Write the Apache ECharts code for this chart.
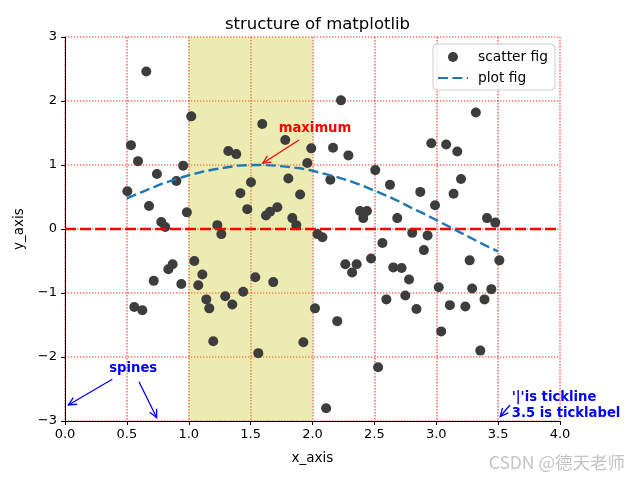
<!DOCTYPE html>
<html><head><meta charset="utf-8">
<script src="https://cdn.jsdelivr.net/npm/echarts/dist/echarts.min.js"></script>
<style>html,body{margin:0;padding:0;background:#fff}#c{width:640px;height:480px}</style>
</head><body><div id="c"></div>
<script>
const titleText = 'structure of matplotlib';
const xAxisName = 'x_axis';
const yAxisName = 'y_axis';
const legendNames = ['scatter fig', 'plot fig'];

const scatterX = [0.657,0.533,0.59,0.743,0.955,0.90,0.504,0.679,0.985,0.778,0.81,1.02,1.594,1.78,1.99,1.32,1.384,1.958,1.503,1.805,1.417,1.90,1.473,1.716,1.657,1.624,1.837,1.869,1.231,1.263,1.045,1.11,1.077,0.94,1.538,1.683,1.142,1.295,1.44,1.166,1.352,2.02,2.04,1.198,1.926,1.562,0.87,0.835,0.717,0.56,0.625,2.23,2.96,2.166,2.29,2.507,2.144,2.626,2.871,2.99,2.384,2.44,2.41,2.685,2.08,2.806,2.93,2.565,2.90,2.473,2.265,2.357,2.32,2.653,2.72,2.78,3.02,2.597,2.75,2.84,2.20,2.53,2.11,3.04,3.32,3.08,3.17,3.20,3.14,3.41,3.477,3.27,3.51,3.29,3.445,3.39,3.11,3.235,3.356];
const scatterY = [2.46,1.31,1.06,0.86,0.99,0.75,0.59,0.36,0.26,0.11,0.03,1.76,1.64,1.39,1.26,1.22,1.17,1.03,0.73,0.79,0.56,0.54,0.31,0.34,0.27,0.21,0.17,0.06,0.06,-0.08,-0.50,-0.71,-0.88,-0.86,-0.755,-0.83,-1.10,-1.05,-0.98,-1.24,-1.18,-1.24,-0.08,-1.755,-1.77,-1.94,-0.55,-0.63,-0.81,-1.22,-1.27,2.01,1.34,1.27,1.15,0.92,0.77,0.69,0.58,0.37,0.28,0.28,0.17,0.17,-0.13,-0.06,-0.10,-0.22,-0.33,-0.46,-0.55,-0.55,-0.68,-0.60,-0.61,-0.79,-0.91,-1.10,-1.04,-1.25,-1.44,-2.16,-2.80,-1.60,1.82,1.32,1.21,0.78,0.55,0.17,0.10,-0.49,-0.49,-0.93,-0.94,-1.10,-1.19,-1.21,-1.90];

const curveX = [0.5,0.6,0.7,0.8,0.9,1.0,1.1,1.2,1.3,1.4,1.5,1.6,1.7,1.8,1.9,2.0,2.1,2.2,2.3,2.4,2.5,2.6,2.7,2.8,2.9,3.0,3.1,3.2,3.3,3.4,3.5];
const curveY = [0.48,0.56,0.64,0.72,0.78,0.84,0.89,0.93,0.96,0.99,1.0,1.0,0.99,0.97,0.95,0.91,0.86,0.81,0.75,0.68,0.60,0.52,0.43,0.33,0.24,0.14,0.04,-0.06,-0.16,-0.26,-0.35];

const hLineX = [0, 4];
const hLineY = [0, 0];
const spanRange = [1, 2];

// annotations (data coordinates)
const annMaxText = {text: 'maximum', at: [1.727, 1.567]};
const annMaxArrow = {from: [1.891, 1.39], to: [1.598, 1.027]};
const annSpinesText = {text: 'spines', at: [0.357, -2.18]};
const annSpinesArrows = [{from: [0.382, -2.348], to: [0.027, -2.75]}, {from: [0.598, -2.386], to: [0.741, -2.948]}];
const annTickText = {text: "'|'is tickline\n3.5 is ticklabel", at: [3.61, -2.758]};
const annTickArrow = {from: [3.596, -2.75], to: [3.517, -2.93]};
const watermark = 'CSDN @德天老师';

const chart = echarts.init(document.getElementById('c'), null, {renderer: 'canvas'});
const FONT = 'DejaVu Sans';
const gridLine = {color: '#ff0000', opacity: 0.55, type: [1.4, 1.6], width: 1.6};

chart.setOption({
  animation: false,
  backgroundColor: '#fff',
  title: {
    text: titleText, left: 312.5, top: 11, textAlign: 'center',
    textStyle: {fontFamily: FONT, fontSize: 16.5, fontWeight: 'normal', color: '#000'}
  },
  legend: {
    data: [
      {name: legendNames[0]},
      {name: legendNames[1], itemStyle: {opacity: 0}}
    ],
    orient: 'vertical', left: 433, top: 44,
    padding: [6, 7, 5, 4],
    itemWidth: 30, itemHeight: 10, itemGap: 7,
    backgroundColor: 'rgba(255,255,255,0.8)', borderColor: '#cccccc', borderWidth: 1, borderRadius: 4,
    textStyle: {fontFamily: FONT, fontSize: 13.8, color: '#000', padding: [0, 0, 0, 5], lineHeight: 14}
  },
  grid: {left: 65, right: 80, top: 37, bottom: 59, outerBoundsMode: 'none', containLabel: false},
  xAxis: {
    type: 'value', min: 0, max: 4, interval: 0.5,
    name: xAxisName, nameLocation: 'middle', nameGap: 30,
    nameTextStyle: {fontFamily: FONT, fontSize: 13.5, color: '#000'},
    axisLine: {show: true, onZero: false, lineStyle: {color: '#000', width: 1}},
    axisTick: {show: true, inside: false, length: 4, lineStyle: {color: '#000'}},
    axisLabel: {fontFamily: FONT, fontSize: 13, color: '#000', margin: 7, formatter: v => v.toFixed(1)},
    splitLine: {show: true, lineStyle: gridLine}
  },
  yAxis: {
    type: 'value', min: -3, max: 3, interval: 1,
    name: yAxisName, nameLocation: 'middle', nameGap: 28,
    nameTextStyle: {fontFamily: FONT, fontSize: 13.5, color: '#000'},
    axisLine: {show: true, onZero: false, lineStyle: {color: '#000', width: 1}},
    axisTick: {show: true, inside: false, length: 4, lineStyle: {color: '#000'}},
    axisLabel: {fontFamily: FONT, fontSize: 13, color: '#000', margin: 8, formatter: v => String(v).replace('-', '\u2212')},
    splitLine: {show: true, lineStyle: gridLine}
  },
  series: [
    {
      name: legendNames[0], type: 'scatter', z: 2,
      symbol: 'circle', symbolSize: 10,
      itemStyle: {color: '#3d3d3d', opacity: 1},
      data: scatterX.map((x, i) => [x, scatterY[i]])
    },
    {
      name: 'span', type: 'line', z: 3, data: [], silent: true,
      markArea: {silent: true, itemStyle: {color: 'rgba(191,191,0,0.3)'},
        data: [[{xAxis: spanRange[0]}, {xAxis: spanRange[1]}]]}
    },
    {
      name: 'zero', type: 'line', z: 4, symbol: 'none', silent: true,
      lineStyle: {color: '#ff0000', width: 2.3, type: [11, 4]},
      data: hLineX.map((x, i) => [x, hLineY[i]])
    },
    {
      name: legendNames[1], type: 'line', z: 5, symbol: 'none', showSymbol: false, smooth: false,
      itemStyle: {color: '#1f77b4'},
      lineStyle: {color: '#1f77b4', width: 2.4, type: [10, 4.4]},
      data: curveX.map((x, i) => [x, curveY[i]])
    }
  ]
});

const px = p => chart.convertToPixel({gridIndex: 0}, p);
function arrow(a, color) {
  const p0 = px(a.from), p1 = px(a.to);
  const dx = p1[0] - p0[0], dy = p1[1] - p0[1];
  const L = Math.hypot(dx, dy), ux = dx / L, uy = dy / L;
  const hl = 8, hw = 3.8;
  const bx = p1[0] - ux * hl, by = p1[1] - uy * hl;
  return [
    {type: 'line', z: 100, shape: {x1: p0[0], y1: p0[1], x2: p1[0], y2: p1[1]}, style: {stroke: color, lineWidth: 1.3}},
    {type: 'polyline', z: 100, shape: {points: [[bx - uy * hw, by + ux * hw], p1, [bx + uy * hw, by - ux * hw]]}, style: {stroke: color, lineWidth: 1.3, fill: null}}
  ];
}
function label(t, color, lh) {
  const p = px(t.at);
  return {type: 'text', z: 100, x: p[0], y: p[1], style: {text: t.text, fill: color, font: 'bold 13.2px "DejaVu Sans"', align: 'left', verticalAlign: 'middle', lineHeight: lh || 16}};
}
const g = [];
g.push(...arrow(annMaxArrow, '#ff0000'));
g.push(label(annMaxText, '#ff0000'));
annSpinesArrows.forEach(a => g.push(...arrow(a, '#0000ff')));
g.push(label(annSpinesText, '#0000ff'));
g.push(...arrow(annTickArrow, '#0000ff'));
g.push(label(annTickText, '#0000ff', 16));
g.push({type: 'text', z: 100, x: 625, y: 462, style: {text: watermark, fill: '#c4c4c4', font: '17.5px "Noto Sans CJK SC"', align: 'right', verticalAlign: 'middle'}});
chart.setOption({graphic: g});
</script>
</body></html>
